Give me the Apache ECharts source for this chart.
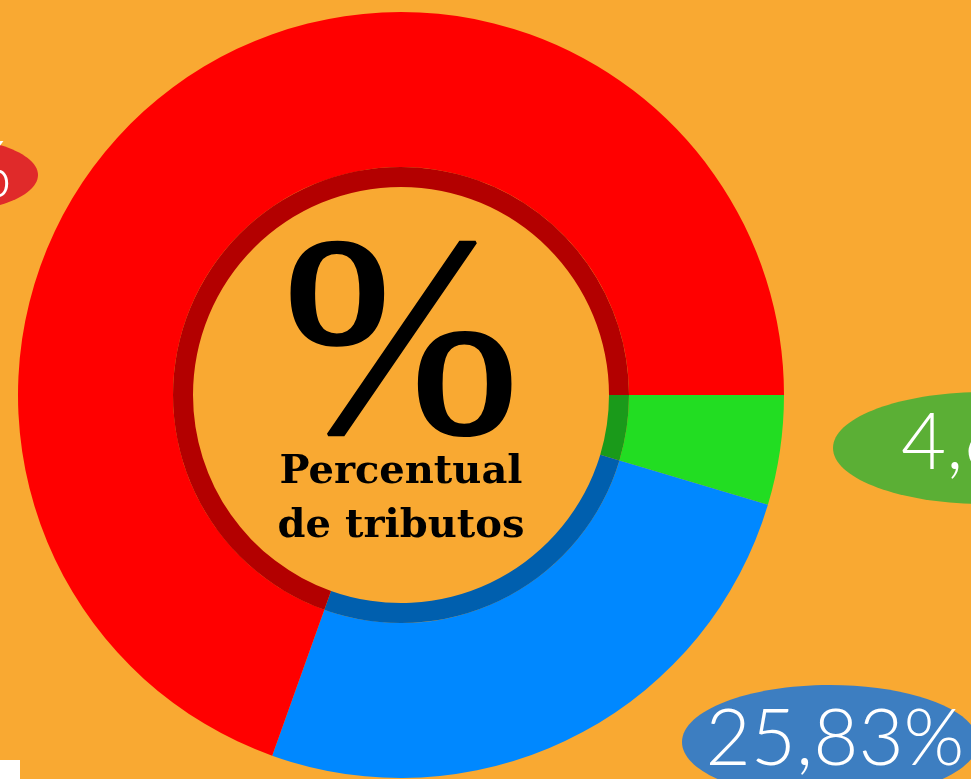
<!DOCTYPE html>
<html>
<head>
<meta charset="utf-8">
<script src="https://cdn.jsdelivr.net/npm/echarts@6/dist/echarts.min.js"></script>
<style>
  html, body { margin: 0; padding: 0; background: #F9A932; }
  #chart { width: 971px; height: 779px; }
</style>
</head>
<body>
<div id="chart"></div>
<script>
// slices in drawing order, clockwise from 3 o'clock
var names = ['Verde', 'Azul', 'Vermelho'];
var values = [4.63, 25.83, 69.54];
var labels = ['4,63%', '25,83%', '69,54%'];
var colors = ['#22DD22', '#0088FF', '#FF0000'];
var darkColors = ['#1A9A1A', '#005FAE', '#B30000'];
var bubbleColors = ['#5BAF35', '#3D7EC1', '#E02A2A'];

// where each value bubble sits (centre x, y, half width, half height)
var bubbles = [
  [985, 448, 152, 56],
  [830, 742, 148, 57],
  [-60, 175, 98, 38]
];
// label anchors: x, y, align
var labelPos = [
  [901, 444, 'left'],
  [835, 740, 'center'],
  [12, 172, 'right']
];

var chart = echarts.init(document.getElementById('chart'));

var outerData = names.map(function (n, i) {
  return { name: n, value: values[i], itemStyle: { color: colors[i] } };
});
var ringData = names.map(function (n, i) {
  return { name: n, value: values[i], itemStyle: { color: darkColors[i] } };
});

var graphics = bubbles.map(function (b, i) {
  return {
    type: 'ellipse',
    z: 1,
    shape: { cx: b[0], cy: b[1], rx: b[2], ry: b[3] },
    style: { fill: bubbleColors[i] }
  };
});
graphics.push({
  type: 'rect', z: 1,
  shape: { x: 0, y: 760, width: 20, height: 19 },
  style: { fill: '#FFFFFF' }
});
graphics.push({
  type: 'text', z: 10,
  style: {
    x: 401, y: 357, text: '%',
    fontFamily: '"Liberation Serif", serif',
    fontSize: 285,
    fontWeight: 'normal',
    stroke: '#000', lineWidth: 3,
    fill: '#000', align: 'center', verticalAlign: 'middle'
  }
});
graphics.push({
  type: 'text', z: 10,
  style: {
    x: 401, y: 500, text: 'Percentual\nde tributos',
    fontFamily: '"DejaVu Serif", serif',
    fontSize: 40,
    fontWeight: 'bold',
    lineHeight: 54,
    fill: '#000', align: 'center', verticalAlign: 'middle'
  }
});

var option = {
  backgroundColor: '#F9A932',
  animation: false,
  graphic: graphics,
  series: [
    {
      type: 'pie',
      z: 2,
      center: [401, 395],
      radius: [228, 383],
      startAngle: 0,
      clockwise: true,
      silent: true,
      data: outerData,
      label: {
        show: true,
        overflow: 'none',
        formatter: function (p) { return labels[p.dataIndex]; },
        color: '#FFFFFF',
        fontFamily: 'Lato, "Open Sans", sans-serif',
        fontWeight: 300,
        fontSize: 78
      },
      labelLine: { show: false },
      labelLayout: function (p) {
        var lp = labelPos[p.dataIndex];
        return { x: lp[0], y: lp[1], align: lp[2], verticalAlign: 'middle' };
      }
    },
    {
      type: 'pie',
      z: 2,
      center: [401, 395],
      radius: [208, 228],
      startAngle: 0,
      clockwise: true,
      silent: true,
      data: ringData,
      label: { show: false },
      labelLine: { show: false }
    }
  ]
};

chart.setOption(option);
</script>
</body>
</html>
